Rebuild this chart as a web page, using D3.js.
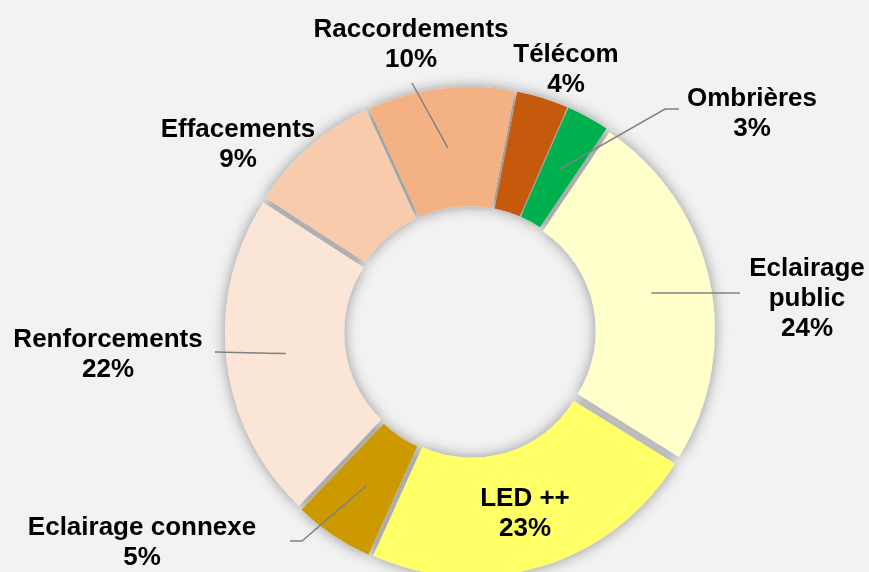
<!DOCTYPE html>
<html>
<head>
<meta charset="utf-8">
<script src="https://cdn.jsdelivr.net/npm/d3@7"></script>
<style>
  html, body { margin: 0; padding: 0; background: #f2f2f2; }
  svg { display: block; }
  .lbl { font-family: "Liberation Sans", Arial, sans-serif; font-weight: bold; font-size: 26px; fill: #000; }
  .leader { fill: none; stroke: #808080; stroke-width: 1.5; }
</style>
</head>
<body>
<div id="chart"></div>
<script>
// données (parts en %)
const categories = ["Eclairage public", "LED ++", "Eclairage connexe", "Renforcements",
                    "Effacements", "Raccordements", "Télécom", "Ombrières"];
const values = [24.4, 22.9, 5.4, 22.0, 9.0, 9.9, 3.5, 2.9];
const colors = ["#ffffcc", "#ffff66", "#cc9900", "#fbe5d6", "#f8cbad", "#f4b183", "#c55a11", "#00b050"];

// lignes de texte des étiquettes (le % est ajouté ensuite)
const labelLines = [["Eclairage", "public"], ["LED ++"], ["Eclairage connexe"], ["Renforcements"],
                    ["Effacements"], ["Raccordements"], ["Télécom"], ["Ombrières"]];

const width = 869, height = 572;
const cx = 470, cy = 332;
const outerR = 239, innerR = 120;
const explode = 6;
const startDeg = 34;
const lineH = 30;

// placement des étiquettes (déplacées à la main dans l'original)
const labelPos = [
  { x: 807, y: 267, leader: [[740, 293]], ly: 293 },
  { x: 525, y: 497 },
  { x: 142, y: 526, leader: [[302, 541], [290, 541]] },
  { x: 108, y: 338, leader: [[215, 352]] },
  { x: 238, y: 128 },
  { x: 411, y: 28, leader: [[412, 83]] },
  { x: 566, y: 53 },
  { x: 752, y: 97, leader: [[665, 109], [679, 109]] }
];

const total = d3.sum(values);
const data = categories.map((c, i) => ({ name: c, value: values[i], color: colors[i] }));

const svg = d3.select("#chart").append("svg")
    .attr("width", width)
    .attr("height", height);

svg.append("rect").attr("width", width).attr("height", height).attr("fill", "#f2f2f2");

const defs = svg.append("defs");
const filt = defs.append("filter").attr("id", "shadow")
    .attr("x", "-20%").attr("y", "-20%").attr("width", "140%").attr("height", "140%");
filt.append("feDropShadow")
    .attr("dx", 0).attr("dy", 0)
    .attr("stdDeviation", 7)
    .attr("flood-color", "#000")
    .attr("flood-opacity", 0.4);

const pie = d3.pie()
    .sort(null)
    .value(d => d.value)
    .startAngle(startDeg * Math.PI / 180)
    .endAngle(startDeg * Math.PI / 180 + 2 * Math.PI);

const arcs = pie(data);
const arc = d3.arc().innerRadius(innerR).outerRadius(outerR);

function offset(d, r) {
    const a = (d.startAngle + d.endAngle) / 2;
    return [Math.sin(a) * r, -Math.cos(a) * r];
}

const g = svg.append("g").attr("transform", `translate(${cx},${cy})`);

const slices = g.append("g").attr("filter", "url(#shadow)");
slices.selectAll("path")
    .data(arcs)
    .enter().append("path")
    .attr("d", arc)
    .attr("fill", d => d.data.color)
    .attr("transform", d => {
        const [dx, dy] = offset(d, explode);
        return `translate(${dx},${dy})`;
    });

// lignes de rappel
const midR = (innerR + outerR) / 2 + explode;
arcs.forEach((d, i) => {
    const p = labelPos[i];
    if (!p.leader) return;
    const [sx, sy] = offset(d, midR);
    const pts = [[cx + sx, cy + sy]].concat(p.leader);
    if (p.ly !== undefined) pts[0][1] = p.ly;
    svg.append("path")
        .attr("class", "leader")
        .attr("d", d3.line()(pts));
});

// étiquettes
const pct = v => Math.round(v / total * 100) + "%";
arcs.forEach((d, i) => {
    const p = labelPos[i];
    const lines = labelLines[i].concat([pct(d.data.value)]);
    const t = svg.append("text")
        .attr("class", "lbl")
        .attr("text-anchor", "middle");
    lines.forEach((s, k) => {
        t.append("tspan")
            .attr("x", p.x)
            .attr("y", p.y + k * lineH)
            .attr("dy", "0.35em")
            .text(s);
    });
});
</script>
</body>
</html>
